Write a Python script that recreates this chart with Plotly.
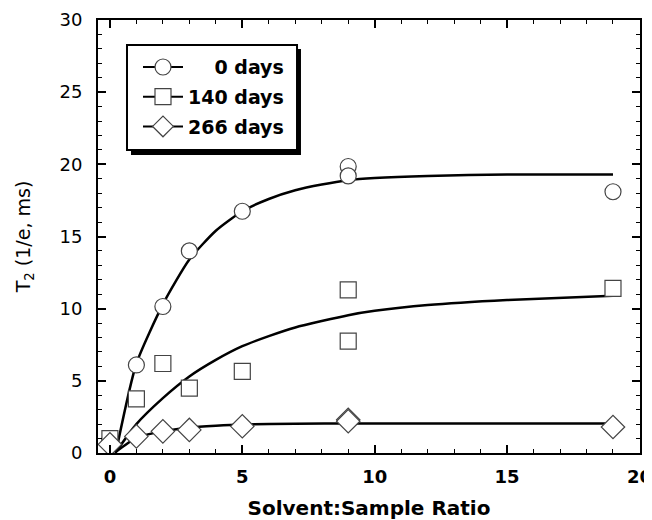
import plotly.graph_objects as go

# measured points
x_pts = [0, 1, 2, 3, 5, 9, 9, 19]
y_0days = [0.9, 6.1, 10.15, 14.0, 16.75, 19.85, 19.2, 18.1]
y_140days = [1.0, 3.75, 6.2, 4.5, 5.65, 11.3, 7.75, 11.4]
y_266days = [0.6, 1.15, 1.5, 1.6, 1.85, 2.3, 2.2, 1.8]

# fitted curves
fit0_x = [0.3, 1, 2, 3, 4, 5, 6, 7, 8, 9, 10, 12, 15, 19]
fit0_y = [0.7, 6.2, 10.3, 13.4, 15.4, 16.75, 17.6, 18.2, 18.6, 18.9, 19.05, 19.2, 19.3, 19.3]
fit140_x = [0.2, 1, 2, 3, 4, 5, 6, 7, 9, 10, 12, 15, 19]
fit140_y = [0.0, 2.0, 3.8, 5.3, 6.45, 7.4, 8.1, 8.7, 9.55, 9.85, 10.25, 10.6, 10.9]
fit266_x = [0.2, 1, 2, 3, 4, 5, 7, 9, 19]
fit266_y = [0.05, 1.05, 1.5, 1.75, 1.88, 1.97, 2.03, 2.05, 2.05]

x_ticks = [0, 5, 10, 15, 20]
y_ticks = [0, 5, 10, 15, 20, 25, 30]

labels = ["\u2007\u20070 days", "140 days", "266 days"]
symbols_fill = ["circle", "square", "diamond"]
sizes = [16, 16, 18]

FONT = "DejaVu Sans"
fig = go.Figure()

for fx, fy in [(fit0_x, fit0_y), (fit140_x, fit140_y), (fit266_x, fit266_y)]:
    fig.add_trace(go.Scatter(x=fx, y=fy, mode="lines", showlegend=False,
                             line=dict(color="black", width=2.5, shape="spline", smoothing=0.6),
                             hoverinfo="skip"))

for ys, sym, sz in zip([y_0days, y_140days, y_266days], symbols_fill, sizes):
    fig.add_trace(go.Scatter(x=x_pts, y=ys, mode="markers", showlegend=False,
                             marker=dict(symbol=sym, size=sz, color="white",
                                         line=dict(color="#444", width=1.2))))

# legend entries
for i, (lab, sym, sz) in enumerate(zip(labels, symbols_fill, sizes)):
    fig.add_trace(go.Scatter(x=[None], y=[None], mode="lines+markers", name=lab,
                             legendgroup=f"g{i}",
                             line=dict(color="black", width=2),
                             marker=dict(symbol=sym, size=sz, color="white",
                                         line=dict(color="#444", width=1.2))))

# legend frame with drop shadow
fig.add_shape(type="rect", xref="paper", yref="paper",
              x0=0.0609, x1=0.3745, y0=0.6882, y1=0.933,
              fillcolor="black", line=dict(width=0), layer="above")
fig.add_shape(type="rect", xref="paper", yref="paper",
              x0=0.0535, x1=0.3672, y0=0.6998, y1=0.9423,
              fillcolor="white", line=dict(color="black", width=2), layer="above")

axis_common = dict(showline=True, linecolor="black", linewidth=2, mirror="ticks",
                   ticks="inside", tickcolor="black", ticklen=8, tickwidth=1.5,
                   showgrid=False, zeroline=False, automargin=False,
                   ticklabeloverflow="allow")

fig.update_xaxes(range=[-0.45, 20.02], tickvals=x_ticks, **axis_common,
                 minor=dict(dtick=1, ticks="inside", ticklen=4, tickcolor="black", tickwidth=1.2),
                 tickfont=dict(family=FONT, size=18, color="black", weight="bold"),
                 ticklabelstandoff=6,
                 title=dict(text="<b>Solvent:Sample Ratio</b>", standoff=22,
                            font=dict(family=FONT, size=20, color="black")))
fig.update_yaxes(range=[0, 30], tickvals=y_ticks, **axis_common,
                 minor=dict(dtick=1, ticks="inside", ticklen=4, tickcolor="black", tickwidth=1.2),
                 tickfont=dict(family=FONT, size=18, color="black"),
                 ticklabelstandoff=10,
                 title=dict(text="T<sub>2</sub> (1/e, ms)", standoff=24,
                            font=dict(family=FONT, size=19, color="black")))

# the page body has an 8px default margin: figure is 8px smaller, margins shifted
fig.update_layout(
    width=644, height=512,
    margin=dict(l=90, r=12, t=12, b=67, autoexpand=False),
    paper_bgcolor="white", plot_bgcolor="white",
    showlegend=True,
    legend=dict(x=0.0738, y=0.935, xanchor="left", yanchor="top",
                bgcolor="rgba(0,0,0,0)", borderwidth=0,
                font=dict(family=FONT, size=19, color="black", weight="bold"),
                itemwidth=40, tracegroupgap=2),
)

fig.write_html("out.html")
